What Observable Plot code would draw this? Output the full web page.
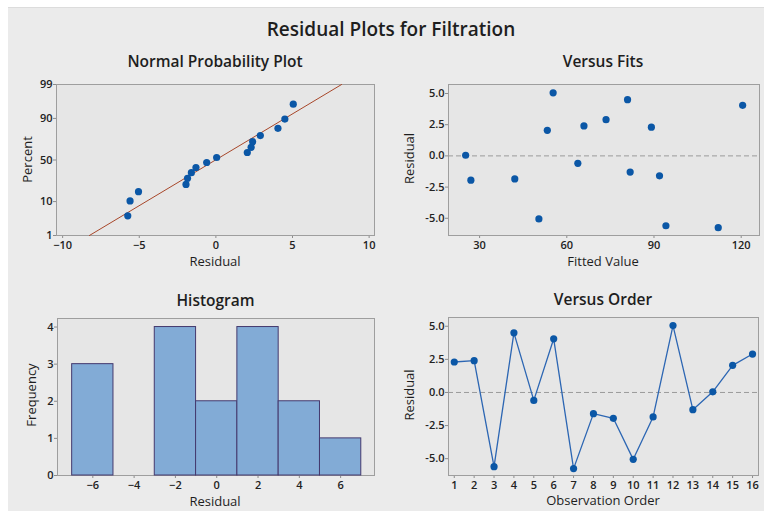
<!DOCTYPE html>
<html>
<head>
<meta charset="utf-8">
<script src="https://cdn.jsdelivr.net/npm/d3@7"></script>
<script src="https://cdn.jsdelivr.net/npm/@observablehq/plot@0.6"></script>
<style>
  html, body { margin: 0; padding: 0; background: #ffffff; }
  #fig { position: relative; width: 764px; height: 516px; overflow: hidden; background: #ffffff; }
  #bg { position: absolute; left: 8px; top: 7px; width: 756px; height: 503px; background: #ebebeb; border-top: 1px solid #dcdcdc; }
  .panel { position: absolute; }
  #overlay { position: absolute; left: 0; top: 0; pointer-events: none; }
</style>
</head>
<body>
<div id="fig">
  <div id="bg"></div>
  <div class="panel" id="npp" style="left:0px;top:70px"></div>
  <div class="panel" id="fits" style="left:385px;top:70px"></div>
  <div class="panel" id="hist" style="left:0px;top:300px"></div>
  <div class="panel" id="order" style="left:385px;top:300px"></div>
  <svg id="overlay" width="764" height="516" font-family="Open Sans, sans-serif" fill="#1e1e1e">
    <text x="391" y="36" text-anchor="middle" font-size="19" font-weight="600">Residual Plots for Filtration</text>
    <text x="215" y="67" text-anchor="middle" font-size="15.5" font-weight="600">Normal Probability Plot</text>
    <text x="603" y="67" text-anchor="middle" font-size="15.5" font-weight="600">Versus Fits</text>
    <text x="215.5" y="306" text-anchor="middle" font-size="15.5" font-weight="600">Histogram</text>
    <text x="603" y="305" text-anchor="middle" font-size="15.5" font-weight="600">Versus Order</text>
    <text x="215" y="266" text-anchor="middle" font-size="13">Residual</text>
    <text x="603" y="266" text-anchor="middle" font-size="13">Fitted Value</text>
    <text x="215" y="506" text-anchor="middle" font-size="13">Residual</text>
    <text x="603" y="505" text-anchor="middle" font-size="13">Observation Order</text>
    <text transform="translate(31.5,159.5) rotate(-90)" text-anchor="middle" font-size="13">Percent</text>
    <text transform="translate(414,158.5) rotate(-90)" text-anchor="middle" font-size="13">Residual</text>
    <text transform="translate(35.5,395) rotate(-90)" text-anchor="middle" font-size="13">Frequency</text>
    <text transform="translate(414,395) rotate(-90)" text-anchor="middle" font-size="13">Residual</text>
  </svg>
</div>
<script>
// ---- Data ----
const observation = [1, 2, 3, 4, 5, 6, 7, 8, 9, 10, 11, 12, 13, 14, 15, 16];
const residuals = [2.3, 2.4, -5.6, 4.5, -0.6, 4.05, -5.75, -1.6, -1.95, -5.05, -1.85, 5.05, -1.3, 0.05, 2.05, 2.9];
const fitted = [89.1, 65.9, 94.1, 80.9, 63.8, 120.5, 112.1, 91.9, 27.0, 50.4, 42.1, 55.3, 81.8, 25.2, 53.3, 73.5];
// plotting positions (percent) of the sorted residuals on the normal probability plot
const nppPercent = [4.27, 10.37, 16.46, 22.56, 28.66, 34.76, 40.85, 46.95, 53.05, 59.15, 65.24, 71.34, 77.44, 83.54, 89.63, 95.73];
const histMid = [-6, -4, -2, 0, 2, 4, 6];
const histCount = [3, 0, 4, 2, 4, 2, 1];
const histBinWidth = 2;

const nppXTicks = [-10, -5, 0, 5, 10];
const nppPercentTicks = [1, 10, 50, 90, 99];
const fitsXTicks = [30, 60, 90, 120];
const residTicks = [-5, -2.5, 0, 2.5, 5];
const histXTicks = [-6, -4, -2, 0, 2, 4, 6];
const histYTicks = [0, 1, 2, 3, 4];

// ---- helpers ----
function qnorm(p) {
  const a = [-3.969683028665376e+01, 2.209460984245205e+02, -2.759285104469687e+02, 1.383577518672690e+02, -3.066479806614716e+01, 2.506628277459239e+00];
  const b = [-5.447609879822406e+01, 1.615858368580409e+02, -1.556989798598866e+02, 6.680131188771972e+01, -1.328068155288572e+01];
  const c = [-7.784894002430293e-03, -3.223964580411365e-01, -2.400758277161838e+00, -2.549732539343734e+00, 4.374664141464968e+00, 2.938163982698783e+00];
  const d = [7.784695709041462e-03, 3.224671290700398e-01, 2.445134137142996e+00, 3.754408661907416e+00];
  const pl = 0.02425, ph = 1 - pl;
  let q, r;
  if (p < pl) {
    q = Math.sqrt(-2 * Math.log(p));
    return (((((c[0]*q+c[1])*q+c[2])*q+c[3])*q+c[4])*q+c[5]) / ((((d[0]*q+d[1])*q+d[2])*q+d[3])*q+1);
  }
  if (p > ph) {
    q = Math.sqrt(-2 * Math.log(1 - p));
    return -(((((c[0]*q+c[1])*q+c[2])*q+c[3])*q+c[4])*q+c[5]) / ((((d[0]*q+d[1])*q+d[2])*q+d[3])*q+1);
  }
  q = p - 0.5; r = q * q;
  return (((((a[0]*r+a[1])*r+a[2])*r+a[3])*r+a[4])*r+a[5])*q / (((((b[0]*r+b[1])*r+b[2])*r+b[3])*r+b[4])*r+1);
}

const FONT = "Open Sans, sans-serif";
const TEXT = "#222222";
const TICK = "#8c8c8c";
const FRAME = "#9e9e9e";
const PLOTBG = "#e6e6e6";
const DOT = "#0b57a6";
const baseStyle = {background: "transparent", fontFamily: FONT, fontSize: "11px", fontWeight: 600, color: TEXT, overflow: "visible"};
const axisOpts = {tickSize: 3, stroke: TICK, fill: TEXT, label: null};

const rows = observation.map((o, i) => ({order: o, resid: residuals[i], fit: fitted[i]}));

// ---- Normal probability plot ----
const sorted = residuals.slice().sort((a, b) => a - b);
const nppRows = sorted.map((r, i) => ({resid: r, z: qnorm(nppPercent[i] / 100)}));
const mu = d3.mean(residuals), sd = d3.deviation(residuals);
const zLo = qnorm(nppPercentTicks[0] / 100), zHi = qnorm(nppPercentTicks[nppPercentTicks.length - 1] / 100);
const fitLine = [zLo, zHi].map(z => ({z, resid: mu + sd * z}));
const zTickLabel = new Map(nppPercentTicks.map(p => [qnorm(p / 100), String(p)]));

document.getElementById("npp").append(Plot.plot({
  width: 385, height: 210,
  marginLeft: 56, marginRight: 11, marginTop: 14, marginBottom: 45,
  style: baseStyle,
  x: {domain: [-10.4, 10.35]},
  y: {domain: [zLo, zHi]},
  marks: [
    Plot.frame({fill: PLOTBG}),
    Plot.axisX(nppXTicks, {...axisOpts, tickPadding: 3}),
    Plot.axisY([...zTickLabel.keys()], {...axisOpts, tickPadding: 1, tickFormat: z => zTickLabel.get(z)}),
    Plot.frame({stroke: FRAME}),
    Plot.line(fitLine, {x: "resid", y: "z", stroke: "#a8472a", strokeWidth: 1}),
    Plot.dot(nppRows, {x: "resid", y: "z", r: 3.6, fill: DOT})
  ]
}));

// ---- Versus Fits ----
document.getElementById("fits").append(Plot.plot({
  width: 379, height: 210,
  marginLeft: 63, marginRight: 5, marginTop: 14, marginBottom: 45,
  style: baseStyle,
  x: {domain: [19.3, 126.3]},
  y: {domain: [-6.38, 5.72]},
  marks: [
    Plot.frame({fill: PLOTBG}),
    Plot.axisX(fitsXTicks, {...axisOpts, tickPadding: 3}),
    Plot.axisY(residTicks, {...axisOpts, tickPadding: 1, tickFormat: d => d.toFixed(1)}),
    Plot.frame({stroke: FRAME}),
    Plot.ruleY([0], {stroke: "#9a9a9a", strokeDasharray: "5,3"}),
    Plot.dot(rows, {x: "fit", y: "resid", r: 3.6, fill: DOT})
  ]
}));

// ---- Histogram ----
const histRows = histMid.map((m, i) => ({x1: m - histBinWidth / 2, x2: m + histBinWidth / 2, count: histCount[i]}));
document.getElementById("hist").append(Plot.plot({
  width: 385, height: 216,
  marginLeft: 57, marginRight: 11, marginTop: 18, marginBottom: 41,
  style: baseStyle,
  x: {domain: [-7.71, 7.64]},
  y: {domain: [0, 4.23]},
  marks: [
    Plot.frame({fill: PLOTBG}),
    Plot.axisX(histXTicks, {...axisOpts, tickPadding: 3}),
    Plot.axisY(histYTicks, {...axisOpts, tickPadding: 1}),
    Plot.frame({stroke: FRAME}),
    Plot.rectY(histRows, {x1: "x1", x2: "x2", y: "count", fill: "#82abd6", stroke: "#44396e", strokeWidth: 1})
  ]
}));

// ---- Versus Order ----
document.getElementById("order").append(Plot.plot({
  width: 379, height: 216,
  marginLeft: 63, marginRight: 6, marginTop: 17, marginBottom: 41,
  style: baseStyle,
  x: {domain: [0.71, 16.3]},
  y: {domain: [-6.27, 5.66]},
  marks: [
    Plot.frame({fill: PLOTBG}),
    Plot.axisX(observation, {...axisOpts, tickPadding: 3}),
    Plot.axisY(residTicks, {...axisOpts, tickPadding: 1, tickFormat: d => d.toFixed(1)}),
    Plot.frame({stroke: FRAME}),
    Plot.ruleY([0], {stroke: "#9a9a9a", strokeDasharray: "5,3"}),
    Plot.line(rows, {x: "order", y: "resid", stroke: "#2c66b3", strokeWidth: 1.3}),
    Plot.dot(rows, {x: "order", y: "resid", r: 3.6, fill: DOT})
  ]
}));
</script>
</body>
</html>
